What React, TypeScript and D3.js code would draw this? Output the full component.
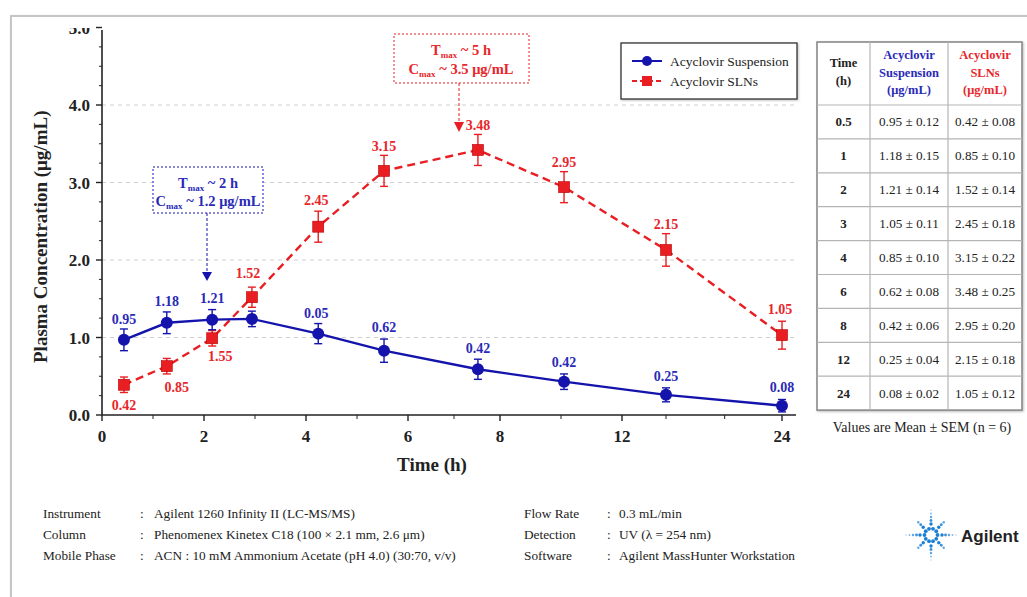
import React from "react";
import * as d3 from "d3";

// ---------- data ----------
const timeTicks = [0, 2, 4, 6, 8, 12, 24];
const timeMinorTicks = [1, 3, 5, 7, 10, 15.3, 19.7];
const concTicks = [0, 1, 2, 3, 4, 5];

const sampleTimes = [0.43, 1.27, 2.16, 2.94, 4.24, 5.53, 7.52, 10.1, 15.3, 24];
const suspensionPlotted = [0.97, 1.19, 1.23, 1.24, 1.05, 0.83, 0.59, 0.43, 0.26, 0.12];
const suspensionErr = [0.14, 0.14, 0.13, 0.1, 0.13, 0.15, 0.13, 0.1, 0.09, 0.08];
const suspensionLabels = ["0.95", "1.18", "1.21", "", "0.05", "0.62", "0.42", "0.42", "0.25", "0.08"];
const slnPlotted = [0.39, 0.63, 0.99, 1.52, 2.43, 3.15, 3.42, 2.94, 2.13, 1.03];
const slnErr = [0.1, 0.1, 0.1, 0.13, 0.2, 0.2, 0.2, 0.2, 0.21, 0.18];
const slnLabels = ["0.42", "0.85", "1.55", "1.52", "2.45", "3.15", "3.48", "2.95", "2.15", "1.05"];

const tableTimes = ["0.5", "1", "2", "3", "4", "6", "8", "12", "24"];
const tableSuspMean = [0.95, 1.18, 1.21, 1.05, 0.85, 0.62, 0.42, 0.25, 0.08];
const tableSuspSem = [0.12, 0.15, 0.14, 0.11, 0.1, 0.08, 0.06, 0.04, 0.02];
const tableSlnMean = [0.42, 0.85, 1.52, 2.45, 3.15, 3.48, 2.95, 2.15, 1.05];
const tableSlnSem = [0.08, 0.1, 0.14, 0.18, 0.22, 0.25, 0.2, 0.18, 0.12];

const footerLeft = [
  ["Instrument", "Agilent 1260 Infinity II (LC-MS/MS)"],
  ["Column", "Phenomenex Kinetex C18 (100 × 2.1 mm, 2.6 μm)"],
  ["Mobile Phase", "ACN : 10 mM Ammonium Acetate (pH 4.0) (30:70, v/v)"],
];
const footerRight = [
  ["Flow Rate", "0.3 mL/min"],
  ["Detection", "UV (λ = 254 nm)"],
  ["Software", "Agilent MassHunter Workstation"],
];

// ---------- layout / style ----------
const SERIF = "'Liberation Serif', 'Times New Roman', serif";
const BLUE = "#1414ad";
const BLUE_TXT = "#2a2ab8";
const RED = "#e81e22";
const RED_TXT = "#e8262c";

const suspLabelOffset = [[0, -21], [0, -22], [0, -22], [0, -22], [-2, -21], [0, -24], [0, -21], [0, -20], [0, -19], [0, -19]];
const slnLabelOffset = [[0, 20], [10, 21], [8, 18], [-4, -24], [-2, -27], [0, -25], [0, -25], [0, -25], [0, -26], [-2, -26]];

export default function App() {
  const x = d3.scaleLinear().domain([0, 6, 8, 12, 24]).range([102, 408, 500, 622, 782]);
  const y = d3.scaleLinear().domain([0, 5]).range([415, 27.5]);
  const xEnd = 796;

  const line = d3
    .line<number>()
    .x((_, i) => x(sampleTimes[i]))
    .y((d) => y(d));

  const yMinor = d3.range(0, 5.001, 0.25).filter((v) => Math.abs(v - Math.round(v)) > 0.01);

  const errBars = (vals: number[], errs: number[], color: string) =>
    vals.map((v, i) => {
      const cx = x(sampleTimes[i]);
      const y1 = y(v + errs[i]);
      const y2 = y(v - errs[i]);
      return (
        <g key={i} stroke={color} strokeWidth={1.4}>
          <line x1={cx} x2={cx} y1={y1} y2={y2} />
          <line x1={cx - 4} x2={cx + 4} y1={y1} y2={y1} />
          <line x1={cx - 4} x2={cx + 4} y1={y2} y2={y2} />
        </g>
      );
    });

  // table
  const tx = [817, 870, 948, 1022];
  const tTop = 42;
  const headH = 63;
  const rowH = 33.9;
  const tBottom = tTop + headH + rowH * tableTimes.length;
  const fmt = d3.format(".2f");

  // agilent logo dots
  const logoC = [931, 535];
  const logoDots: { x: number; y: number; r: number; o: number }[] = [];
  for (let k = 0; k < 10; k++) {
    const a = (k / 10) * 2 * Math.PI;
    logoDots.push({ x: logoC[0] + 6.5 * Math.cos(a), y: logoC[1] + 6.5 * Math.sin(a), r: 1.9, o: 1 });
  }
  for (let k = 0; k < 8; k++) {
    const a = (k / 8) * 2 * Math.PI;
    const axis = k % 2 === 0;
    const dists = axis ? [11, 14.5, 18, 21.5, 25] : [11, 14.5, 18];
    dists.forEach((d, j) => {
      logoDots.push({ x: logoC[0] + d * Math.cos(a), y: logoC[1] + d * Math.sin(a), r: 1.7 - j * 0.25, o: 1 - j * 0.15 });
    });
  }

  return (
    <svg
      width={1027}
      height={597}
      style={{ position: "fixed", left: 0, top: 0, background: "#fff" }}
      fontFamily={SERIF}
    >
      <defs>
        <clipPath id="topclip">
          <rect x={0} y={28} width={1027} height={600} />
        </clipPath>
        <filter id="shadow" x="-5%" y="-5%" width="110%" height="110%">
          <feDropShadow dx={1} dy={1} stdDeviation={1.2} floodColor="#000" floodOpacity={0.25} />
        </filter>
      </defs>

      {/* frame */}
      <rect x={11} y={16} width={1040} height={620} fill="#fff" stroke="#c0c0c0" strokeWidth={1.8} filter="url(#shadow)" />

      {/* grid */}
      {[1, 2, 3, 4].map((v) => (
        <line key={v} x1={x(0)} x2={xEnd} y1={y(v)} y2={y(v)} stroke="#cfcfcf" strokeWidth={1} strokeDasharray="4,4" />
      ))}

      {/* y axis */}
      <line x1={x(0)} x2={x(0)} y1={30} y2={y(0)} stroke="#222" strokeWidth={1.6} />
      {concTicks.map((v) => (
        <line key={v} x1={x(0) - 6} x2={x(0)} y1={y(v)} y2={y(v)} stroke="#222" strokeWidth={1.4} />
      ))}
      {yMinor.map((v) => (
        <line key={v} x1={x(0) - 3} x2={x(0)} y1={y(v)} y2={y(v)} stroke="#222" strokeWidth={1} />
      ))}
      <g clipPath="url(#topclip)">
        {concTicks.map((v) => (
          <text key={v} x={90} y={y(v) + 6} textAnchor="end" fontSize={17} fontWeight="bold" fill="#222">
            {v.toFixed(1)}
          </text>
        ))}
      </g>
      <text
        transform={`translate(47,${y(2.3)}) rotate(-90)`}
        textAnchor="middle"
        fontSize={19}
        fontWeight="bold"
        fill="#222"
      >
        Plasma Concentration (μg/mL)
      </text>

      {/* x axis */}
      <line x1={x(0)} x2={xEnd} y1={y(0)} y2={y(0)} stroke="#222" strokeWidth={1.6} />
      {timeTicks.map((t) => (
        <g key={t}>
          <line x1={x(t)} x2={x(t)} y1={y(0)} y2={y(0) + 6} stroke="#222" strokeWidth={1.4} />
          <text x={x(t)} y={y(0) + 27} textAnchor="middle" fontSize={17} fontWeight="bold" fill="#222">
            {t}
          </text>
        </g>
      ))}
      {timeMinorTicks.map((t) => (
        <line key={t} x1={x(t)} x2={x(t)} y1={y(0)} y2={y(0) + 4} stroke="#222" strokeWidth={1} />
      ))}
      <text x={432} y={471} textAnchor="middle" fontSize={19} fontWeight="bold" fill="#222">
        Time (h)
      </text>

      {/* SLN series */}
      <path d={line(slnPlotted) || ""} fill="none" stroke={RED} strokeWidth={2.4} strokeDasharray="8,5" />
      {errBars(slnPlotted, slnErr, RED)}
      {slnPlotted.map((v, i) => (
        <rect key={i} x={x(sampleTimes[i]) - 5.5} y={y(v) - 5.5} width={11} height={11} fill={RED} stroke="#b00" strokeWidth={0.6} />
      ))}
      {slnLabels.map((l, i) => (
        <text
          key={i}
          x={x(sampleTimes[i]) + slnLabelOffset[i][0]}
          y={y(slnPlotted[i]) + slnLabelOffset[i][1] + 5}
          textAnchor="middle"
          fontSize={14}
          fontWeight="bold"
          fill={RED_TXT}
        >
          {l}
        </text>
      ))}

      {/* Suspension series */}
      <path d={line(suspensionPlotted) || ""} fill="none" stroke={BLUE} strokeWidth={2.4} />
      {errBars(suspensionPlotted, suspensionErr, BLUE)}
      {suspensionPlotted.map((v, i) => (
        <circle key={i} cx={x(sampleTimes[i])} cy={y(v)} r={6} fill={BLUE} />
      ))}
      {suspensionLabels.map((l, i) => (
        <text
          key={i}
          x={x(sampleTimes[i]) + suspLabelOffset[i][0]}
          y={y(suspensionPlotted[i]) + suspLabelOffset[i][1] + 5}
          textAnchor="middle"
          fontSize={14}
          fontWeight="bold"
          fill={BLUE_TXT}
        >
          {l}
        </text>
      ))}

      {/* blue annotation */}
      <rect x={153} y={167} width={110} height={46} fill="#fff" stroke={BLUE} strokeWidth={1} strokeDasharray="2,2" />
      <text x={208} y={188} textAnchor="middle" fontSize={14.5} fontWeight="bold" fill={BLUE_TXT}>
        T<tspan fontSize={9} dy={3}>max</tspan>
        <tspan dy={-3}> ~ 2 h</tspan>
      </text>
      <text x={208} y={206} textAnchor="middle" fontSize={14.5} fontWeight="bold" fill={BLUE_TXT}>
        C<tspan fontSize={9} dy={3}>max</tspan>
        <tspan dy={-3}> ~ 1.2 μg/mL</tspan>
      </text>
      <line x1={207} x2={207} y1={213} y2={273} stroke={BLUE} strokeWidth={1} strokeDasharray="3,2" />
      <path d="M202,272 L212,272 L207,281 Z" fill={BLUE} />

      {/* red annotation */}
      <rect x={394} y={34} width={135} height={49} fill="#fff" stroke={RED} strokeWidth={1} strokeDasharray="2,2" />
      <text x={461} y={55} textAnchor="middle" fontSize={14.5} fontWeight="bold" fill={RED_TXT}>
        T<tspan fontSize={9} dy={3}>max</tspan>
        <tspan dy={-3}> ~ 5 h</tspan>
      </text>
      <text x={461} y={74} textAnchor="middle" fontSize={14.5} fontWeight="bold" fill={RED_TXT}>
        C<tspan fontSize={9} dy={3}>max</tspan>
        <tspan dy={-3}> ~ 3.5 μg/mL</tspan>
      </text>
      <line x1={459} x2={459} y1={83} y2={123} stroke={RED} strokeWidth={1} strokeDasharray="3,2" />
      <path d="M454,122 L464,122 L459,132 Z" fill={RED} />

      {/* legend */}
      <rect x={621} y={43} width={176} height={56} fill="#fff" stroke="#333" strokeWidth={1.3} filter="url(#shadow)" />
      <line x1={632} x2={662} y1={61} y2={61} stroke={BLUE} strokeWidth={2} />
      <circle cx={647} cy={61} r={5} fill={BLUE} />
      <text x={670} y={65.5} fontSize={13.5} fill="#222">
        Acyclovir Suspension
      </text>
      <line x1={632} x2={662} y1={81} y2={81} stroke={RED} strokeWidth={2} strokeDasharray="5,3" />
      <rect x={642} y={76} width={10} height={10} fill={RED} />
      <text x={670} y={85.5} fontSize={13.5} fill="#222">
        Acyclovir SLNs
      </text>

      {/* table */}
      <g>
        <rect x={tx[0]} y={tTop} width={tx[3] - tx[0]} height={tBottom - tTop} fill="#fff" stroke="#8a8a8a" strokeWidth={1.6} filter="url(#shadow)" />
        {[tx[1], tx[2]].map((xx) => (
          <line key={xx} x1={xx} x2={xx} y1={tTop} y2={tBottom} stroke="#b5b5b5" strokeWidth={1.2} />
        ))}
        {tableTimes.map((_, i) => (
          <line key={i} x1={tx[0]} x2={tx[3]} y1={tTop + headH + rowH * i} y2={tTop + headH + rowH * i} stroke="#b5b5b5" strokeWidth={1.2} />
        ))}
        {["Time", "(h)"].map((s, i) => (
          <text key={s} x={(tx[0] + tx[1]) / 2} y={tTop + 25 + i * 18} textAnchor="middle" fontSize={12.5} fontWeight="bold" fill="#222">
            {s}
          </text>
        ))}
        {["Acyclovir", "Suspension", "(μg/mL)"].map((s, i) => (
          <text key={s} x={(tx[1] + tx[2]) / 2} y={tTop + 17 + i * 17.5} textAnchor="middle" fontSize={12.5} fontWeight="bold" fill={BLUE_TXT}>
            {s}
          </text>
        ))}
        {["Acyclovir", "SLNs", "(μg/mL)"].map((s, i) => (
          <text key={s} x={(tx[2] + tx[3]) / 2} y={tTop + 17 + i * 17.5} textAnchor="middle" fontSize={12.5} fontWeight="bold" fill={RED_TXT}>
            {s}
          </text>
        ))}
        {tableTimes.map((t, i) => {
          const cy = tTop + headH + rowH * i + rowH / 2 + 4.5;
          return (
            <g key={t}>
              <text x={(tx[0] + tx[1]) / 2} y={cy} textAnchor="middle" fontSize={13} fontWeight="bold" fill="#222">
                {t}
              </text>
              <text x={(tx[1] + tx[2]) / 2} y={cy} textAnchor="middle" fontSize={13.2} fill="#222">
                {`${fmt(tableSuspMean[i])} ± ${fmt(tableSuspSem[i])}`}
              </text>
              <text x={(tx[2] + tx[3]) / 2} y={cy} textAnchor="middle" fontSize={13.2} fill="#222">
                {`${fmt(tableSlnMean[i])} ± ${fmt(tableSlnSem[i])}`}
              </text>
            </g>
          );
        })}
      </g>
      <text x={922} y={432} textAnchor="middle" fontSize={14} fill="#222">
        Values are Mean ± SEM (n = 6)
      </text>

      {/* footer */}
      <line x1={25} x2={1027} y1={490} y2={490} stroke="#777" strokeWidth={1.5} filter="url(#shadow)" />
      {footerLeft.map(([k, v], i) => (
        <g key={k} fontSize={13.3} fill="#222">
          <text x={43} y={518 + i * 21}>{k}</text>
          <text x={140} y={518 + i * 21}>:</text>
          <text x={154} y={518 + i * 21}>{v}</text>
        </g>
      ))}
      {footerRight.map(([k, v], i) => (
        <g key={k} fontSize={13.3} fill="#222">
          <text x={524} y={518 + i * 21}>{k}</text>
          <text x={607} y={518 + i * 21}>:</text>
          <text x={619} y={518 + i * 21}>{v}</text>
        </g>
      ))}
      {logoDots.map((d, i) => (
        <circle key={i} cx={d.x} cy={d.y} r={Math.max(d.r, 0.6)} fill="#1a7fd4" opacity={d.o} />
      ))}
      <text x={961} y={542} fontFamily="'Liberation Sans', Arial, sans-serif" fontWeight="bold" fontSize={17} fill="#222">
        Agilent
      </text>
    </svg>
  );
}
